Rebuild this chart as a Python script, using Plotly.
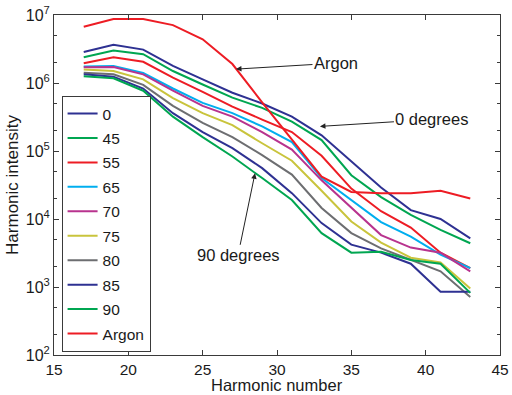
import math
import plotly.graph_objects as go

# Harmonic orders (odd harmonics)
harmonics = [17, 19, 21, 23, 25, 27, 29, 31, 33, 35, 37, 39, 41, 43]

# Harmonic intensity for each alignment angle (degrees) and for argon
deg_0 = [2.85e6, 3.65e6, 3.1e6, 1.78e6, 1.13e6, 7.2e5, 5.0e5, 3.2e5, 1.7e5, 7.0e4, 2.9e4, 1.35e4, 1.0e4, 5.2e3]
deg_45 = [2.4e6, 3.0e6, 2.65e6, 1.5e6, 9.5e5, 6.1e5, 4.3e5, 2.7e5, 1.45e5, 4.4e4, 2.1e4, 1.15e4, 6.9e3, 4.4e3]
deg_55 = [1.95e6, 2.4e6, 2.05e6, 1.2e6, 7.4e5, 4.5e5, 2.9e5, 1.9e5, 8.5e4, 2.8e4, 1.3e4, 7.5e3, 3.2e3, 1.9e3]
deg_65 = [1.75e6, 1.78e6, 1.4e6, 8.3e5, 5.1e5, 3.6e5, 2.3e5, 1.35e5, 4.0e4, 1.9e4, 9.0e3, 5.5e3, 3.0e3, 1.9e3]
deg_70 = [1.7e6, 1.72e6, 1.34e6, 7.7e5, 4.6e5, 3.2e5, 1.9e5, 1.05e5, 3.7e4, 1.45e4, 5.8e3, 3.8e3, 3.2e3, 1.7e3]
deg_75 = [1.58e6, 1.5e6, 1.13e6, 6.0e5, 3.6e5, 2.4e5, 1.3e5, 7.2e4, 2.6e4, 9.2e3, 4.5e3, 2.7e3, 2.3e3, 9.5e2]
deg_80 = [1.42e6, 1.34e6, 9.4e5, 4.6e5, 2.6e5, 1.6e5, 8.7e4, 4.5e4, 1.45e4, 6.2e3, 3.7e3, 2.5e3, 1.7e3, 7.1e2]
deg_85 = [1.34e6, 1.24e6, 8.3e5, 3.6e5, 1.9e5, 1.1e5, 5.6e4, 2.4e4, 8.7e3, 4.2e3, 3.2e3, 2.2e3, 8.5e2, 8.5e2]
deg_90 = [1.26e6, 1.17e6, 7.7e5, 3.2e5, 1.6e5, 8.3e4, 4.0e4, 1.9e4, 6.2e3, 3.2e3, 3.3e3, 2.5e3, 2.2e3, 8.2e2]
argon = [6.7e6, 8.7e6, 8.7e6, 7.1e6, 4.4e6, 1.9e6, 5.2e5, 1.5e5, 4.2e4, 2.5e4, 2.4e4, 2.4e4, 2.6e4, 2.0e4]

series_names = ["0", "45", "55", "65", "70", "75", "80", "85", "90", "Argon"]
series_values = [deg_0, deg_45, deg_55, deg_65, deg_70, deg_75, deg_80, deg_85, deg_90, argon]
series_colors = ["#2e3192", "#00a651", "#ed1c24", "#00aeef", "#b8338e",
                 "#c9c43c", "#6d6e71", "#2e3192", "#00a651", "#ed1c24"]

y_tickvals = [1e2, 1e3, 1e4, 1e5, 1e6, 1e7]
y_ticktext = ["10<sup>2</sup>", "10<sup>3</sup>", "10<sup>4</sup>",
              "10<sup>5</sup>", "10<sup>6</sup>", "10<sup>7</sup>"]
x_tickvals = [15, 20, 25, 30, 35, 40, 45]

FONT = "Liberation Sans, Arial, Helvetica, sans-serif"
AXIS_COLOR = "#3a3a3a"

fig = go.Figure()
for name, vals, col in zip(series_names, series_values, series_colors):
    fig.add_trace(go.Scatter(
        x=harmonics, y=vals, mode="lines", name=name, legendgroup=name,
        line=dict(color=col, width=2),
    ))

# Callout labels with arrows pointing to curves (log axis -> log10 position)
callouts = [
    dict(text="Argon", x=27.24, y=1.6e6, ax=100, ay=-6),
    dict(text="0 degrees", x=32.89, y=2.3e5, ax=112, ay=-7),
    dict(text="90 degrees", x=28.52, y=4.7e4, ax=-17, ay=82),
]
for c in callouts:
    fig.add_annotation(
        x=c["x"], y=math.log10(c["y"]), xref="x", yref="y",
        text=c["text"], showarrow=True, ax=c["ax"], ay=c["ay"],
        arrowhead=2, arrowsize=1.1, arrowwidth=1, arrowcolor="#222222",
        font=dict(family=FONT, size=16.5, color="#1a1a1a"),
    )

# x-axis title placed just below the tick labels
fig.add_annotation(
    x=0.5, y=-0.1176, xref="paper", yref="paper", xanchor="center", yanchor="bottom",
    text="Harmonic number", showarrow=False, borderpad=0,
    font=dict(family=FONT, size=16.5, color="#1a1a1a"),
)

fig.update_layout(
    width=512, height=395,
    margin=dict(l=54, r=12, t=15, b=40),
    paper_bgcolor="white", plot_bgcolor="white",
    font=dict(family=FONT, size=15, color="#1a1a1a"),
    showlegend=True,
    legend=dict(
        x=0.017, y=0.762, xanchor="left", yanchor="top",
        bgcolor="white", bordercolor=AXIS_COLOR, borderwidth=1,
        font=dict(family=FONT, size=15.5, color="#1a1a1a"),
        tracegroupgap=1.3, itemwidth=30,
    ),
    xaxis=dict(
        range=[15, 45], tickvals=x_tickvals, ticks="inside", ticklen=5,
        showline=True, linecolor=AXIS_COLOR, linewidth=1, mirror="ticks",
        tickcolor=AXIS_COLOR, showgrid=False, zeroline=False, automargin=False,
        tickfont=dict(size=15.5),
    ),
    yaxis=dict(
        type="log", range=[2, 7], tickvals=y_tickvals, ticktext=y_ticktext,
        ticks="inside", ticklen=5, tickcolor=AXIS_COLOR,
        showline=True, linecolor=AXIS_COLOR, linewidth=1, mirror="ticks",
        showgrid=False, zeroline=False, automargin=False,
        minor=dict(ticks="inside", ticklen=3, tickcolor=AXIS_COLOR, showgrid=False),
        title=dict(text="Harmonic intensity", standoff=2, font=dict(size=17)),
        tickfont=dict(size=16),
    ),
)

fig.write_html("out.html")
